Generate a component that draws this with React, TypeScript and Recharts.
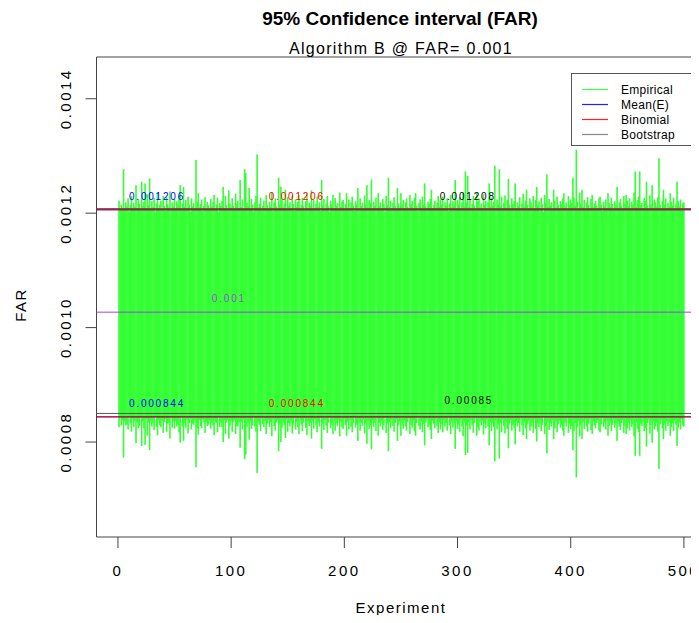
import React from 'react';
import {
  ComposedChart,
  Bar,
  XAxis,
  YAxis,
  ReferenceLine,
  ReferenceArea,
  ReferenceDot,
} from 'recharts';

// ---------- data (micro-units, i.e. x 1e-6) ----------
const UNIT = 1e-6;

const upperE6 = [
  1222, 1205, 1215, 1210, 1277, 1208, 1219, 1212, 1226, 1203,
  1214, 1230, 1207, 1218, 1211, 1249, 1209, 1224, 1216, 1205,
  1255, 1212, 1220, 1252, 1208, 1233, 1214, 1261, 1206, 1221,
  1211, 1227, 1203, 1217, 1236, 1209, 1215, 1222, 1207, 1230,
  1213, 1204, 1228, 1216, 1210, 1238, 1206, 1219, 1212, 1225,
  1208, 1221, 1214, 1231, 1249, 1205, 1217, 1246, 1211, 1223,
  1209, 1229, 1215, 1203, 1226, 1212, 1218, 1207, 1293, 1220,
  1235, 1210, 1216, 1224, 1204, 1213, 1228, 1208, 1220, 1214,
  1206, 1225, 1211, 1219, 1232, 1209, 1215, 1227, 1203, 1218,
  1212, 1222, 1246, 1208, 1230, 1214, 1205, 1240, 1217, 1210,
  1226, 1213, 1207, 1234, 1216, 1221, 1209, 1258, 1211, 1224,
  1206, 1277, 1270, 1218, 1212, 1244, 1208, 1225, 1215, 1203,
  1219, 1230, 1303, 1210, 1216, 1227, 1205, 1213, 1222, 1209,
  1232, 1214, 1207, 1220, 1211, 1236, 1204, 1218, 1226, 1212,
  1208, 1262, 1215, 1246, 1223, 1210, 1217, 1241, 1206, 1228,
  1213, 1219, 1209, 1231, 1216, 1204, 1224, 1211, 1220, 1232,
  1207, 1215, 1227, 1212, 1205, 1221, 1234, 1209, 1218, 1213,
  1240, 1210, 1223, 1206, 1216, 1229, 1211, 1219, 1204, 1258,
  1214, 1225, 1208, 1217, 1230, 1212, 1203, 1222, 1215, 1232,
  1209, 1226, 1213, 1218, 1207, 1236, 1211, 1220, 1223, 1205,
  1216, 1235, 1210, 1224, 1207, 1219, 1229, 1213, 1204, 1221,
  1215, 1244, 1209, 1226, 1212, 1218, 1206, 1231, 1214, 1249,
  1210, 1223, 1217, 1259, 1208, 1220, 1213, 1227, 1205, 1235,
  1212, 1219, 1209, 1225, 1216, 1203, 1230, 1214, 1262, 1211,
  1222, 1207, 1218, 1228, 1213, 1206, 1244, 1217, 1210, 1235,
  1214, 1223, 1208, 1219, 1226, 1211, 1205, 1232, 1216, 1221,
  1209, 1227, 1235, 1213, 1204, 1218, 1224, 1210, 1229, 1215,
  1252, 1212, 1207, 1220, 1216, 1225, 1241, 1209, 1214, 1222,
  1206, 1218, 1230, 1211, 1224, 1215, 1229, 1208, 1219, 1213,
  1226, 1204, 1217, 1232, 1210, 1221, 1214, 1258, 1209, 1223,
  1215, 1228, 1207, 1219, 1236, 1212, 1273, 1218, 1265, 1211,
  1224, 1208, 1216, 1230, 1213, 1205, 1235, 1220, 1226, 1210,
  1217, 1209, 1233, 1214, 1222, 1206, 1219, 1252, 1211, 1227,
  1213, 1220, 1283, 1208, 1224, 1215, 1277, 1212, 1229, 1206,
  1218, 1231, 1210, 1223, 1260, 1214, 1207, 1226, 1216, 1221,
  1252, 1209, 1219, 1213, 1228, 1205, 1217, 1234, 1211, 1222,
  1241, 1215, 1208, 1226, 1219, 1212, 1230, 1206, 1223, 1246,
  1214, 1220, 1209, 1227, 1216, 1203, 1232, 1218, 1268, 1211,
  1225, 1213, 1219, 1207, 1241, 1222, 1210, 1229, 1215, 1208,
  1221, 1216, 1226, 1235, 1212, 1219, 1205, 1230, 1214, 1224,
  1218, 1262, 1227, 1213, 1311, 1220, 1209, 1236, 1216, 1241,
  1211, 1223, 1207, 1219, 1228, 1214, 1206, 1225, 1232, 1210,
  1217, 1222, 1213, 1208, 1226, 1229, 1215, 1204, 1220, 1212,
  1224, 1209, 1235, 1218, 1211, 1227, 1216, 1206, 1221, 1214,
  1246, 1210, 1219, 1225, 1213, 1207, 1230, 1217, 1232, 1222,
  1212, 1226, 1208, 1220, 1215, 1236, 1273, 1211, 1223, 1229,
  1273, 1214, 1218, 1209, 1227, 1221, 1255, 1213, 1206, 1231,
  1216, 1249, 1210, 1224, 1219, 1212, 1228, 1296, 1215, 1207,
  1222, 1241, 1214, 1226, 1209, 1218, 1211, 1235, 1220, 1213,
  1227, 1208, 1216, 1255, 1221, 1212, 1224, 1206, 1217, 1219,
];

const lowerE6 = [
  826, 843, 829, 838, 773, 836, 829, 831, 822, 845,
  832, 818, 841, 826, 837, 798, 835, 824, 828, 842,
  793, 836, 824, 795, 840, 811, 834, 786, 838, 827,
  833, 821, 844, 827, 812, 839, 829, 826, 837, 816,
  835, 840, 818, 832, 834, 806, 842, 825, 836, 823,
  836, 827, 830, 817, 799, 843, 827, 802, 833, 825,
  839, 815, 833, 841, 822, 832, 830, 837, 756, 824,
  813, 838, 828, 824, 840, 835, 816, 836, 828, 830,
  838, 823, 833, 829, 812, 835, 833, 817, 843, 826,
  834, 826, 800, 838, 814, 834, 839, 806, 829, 836,
  818, 835, 839, 814, 828, 827, 835, 790, 835, 822,
  840, 770, 778, 826, 834, 804, 836, 823, 829, 843,
  827, 818, 746, 836, 830, 819, 841, 831, 826, 837,
  814, 832, 839, 826, 835, 810, 840, 828, 820, 834,
  838, 784, 831, 800, 825, 834, 829, 807, 840, 818,
  833, 827, 837, 815, 830, 842, 822, 835, 826, 814,
  839, 831, 819, 834, 841, 825, 812, 837, 828, 833,
  806, 836, 823, 840, 830, 817, 835, 827, 842, 788,
  832, 821, 838, 829, 816, 834, 843, 824, 831, 814,
  837, 820, 833, 828, 839, 810, 835, 826, 823, 841,
  830, 811, 836, 822, 839, 827, 817, 833, 842, 825,
  831, 802, 837, 820, 834, 828, 840, 815, 832, 797,
  836, 823, 829, 787, 838, 826, 833, 819, 841, 811,
  834, 827, 837, 821, 830, 843, 816, 832, 784, 835,
  824, 839, 828, 818, 833, 840, 802, 829, 836, 811,
  832, 823, 838, 827, 820, 835, 841, 814, 830, 825,
  837, 819, 811, 833, 842, 828, 822, 836, 817, 831,
  794, 834, 839, 826, 830, 821, 805, 837, 832, 824,
  840, 828, 816, 835, 822, 831, 817, 838, 827, 833,
  820, 842, 829, 814, 836, 825, 832, 788, 837, 823,
  831, 818, 839, 827, 810, 834, 777, 828, 781, 835,
  822, 838, 830, 816, 833, 841, 811, 826, 820, 836,
  829, 837, 813, 832, 824, 840, 827, 794, 835, 819,
  833, 826, 766, 838, 822, 831, 771, 834, 817, 840,
  828, 815, 836, 823, 789, 832, 839, 820, 830, 825,
  796, 837, 827, 833, 818, 841, 829, 812, 835, 824,
  805, 831, 838, 820, 827, 834, 816, 840, 823, 801,
  832, 826, 837, 819, 830, 843, 814, 828, 780, 835,
  821, 833, 827, 839, 805, 824, 836, 817, 831, 838,
  825, 830, 820, 811, 834, 827, 841, 816, 832, 822,
  828, 786, 819, 833, 738, 826, 837, 810, 830, 805,
  835, 823, 839, 827, 818, 832, 840, 821, 814, 836,
  829, 824, 833, 838, 820, 817, 831, 842, 826, 834,
  822, 837, 811, 828, 835, 819, 830, 840, 825, 832,
  802, 836, 827, 821, 833, 839, 816, 829, 814, 824,
  834, 820, 838, 826, 831, 810, 776, 835, 823, 817,
  776, 832, 828, 837, 819, 825, 792, 833, 840, 815,
  830, 799, 836, 822, 827, 834, 818, 753, 831, 839,
  824, 805, 832, 820, 837, 828, 835, 811, 826, 833,
  819, 838, 830, 793, 825, 834, 822, 840, 829, 827,
];

const experiments = upperE6.map((_, i) => i + 1);

const meanCI = [0.000844, 0.001206];
const binomialCI = [0.000844, 0.001206];
const bootstrapCI = [0.00085, 0.001208];
const meanFAR = 0.001027;

const meanLabels = ['0.000844', '0.001206'];
const binomialLabels = ['0.000844', '0.001206'];
const bootstrapLabels = ['0.00085', '0.001208'];
const meanFARLabel = '0.001';

const xTicks = [0, 100, 200, 300, 400, 500];
const yTicks = [0.0008, 0.001, 0.0012, 0.0014];

const legendItems = [
  { name: 'Empirical', color: '#44ff44' },
  { name: 'Mean(E)', color: '#2222ff' },
  { name: 'Binomial', color: '#ff2222' },
  { name: 'Bootstrap', color: '#888888' },
];

const data = experiments.map((e, i) => ({
  exp: e,
  range: [lowerE6[i] * UNIT, upperE6[i] * UNIT],
}));

const FONT = '"Liberation Sans", Arial, sans-serif';
const X_DOMAIN = [-18.96, 519.96];
const Y_DOMAIN = [0.000634, 0.001473];
const GREEN = '#33ff33';

const YTick = (props: any) => {
  const { x, y, payload } = props;
  return (
    <text
      x={x}
      y={y}
      transform={`rotate(-90 ${x} ${y})`}
      textAnchor="middle"
      dominantBaseline="central"
      fontFamily={FONT}
      fontSize={15}
      letterSpacing={2.5}
      fill="#000"
    >
      {Number(payload.value).toFixed(4)}
    </text>
  );
};

const XTick = (props: any) => {
  const { x, y, payload } = props;
  return (
    <text
      x={x}
      y={y}
      textAnchor="middle"
      dominantBaseline="central"
      fontFamily={FONT}
      fontSize={15}
      letterSpacing={2.5}
      fill="#000"
    >
      {payload.value}
    </text>
  );
};

// interval segment: a thin vertical bar centred on the experiment position
const Segment = (props: any) => {
  const { x, y, width, height } = props;
  if (x == null || y == null || height == null) return null;
  const cx = x + (width || 0) / 2;
  const top = height < 0 ? y + height : y;
  const h = Math.abs(height);
  return <rect x={cx - 0.8} y={top} width={1.6} height={h} fill={GREEN} />;
};

const annot = (value: string, color: string) => ({
  value,
  position: 'center' as const,
  fill: color,
  fontSize: 10,
  fontFamily: FONT,
  letterSpacing: 1.8,
});

export default function App() {
  return (
    <div
      style={{
        position: 'relative',
        width: 699,
        height: 623,
        margin: -8,
        overflow: 'hidden',
        background: '#fff',
      }}
    >
      <ComposedChart
        width={712}
        height={623}
        data={data}
        margin={{ top: 57, right: 5.5, bottom: 0, left: 36.5 }}
      >
        <XAxis
          type="number"
          dataKey="exp"
          domain={X_DOMAIN}
          ticks={xTicks}
          allowDataOverflow
          axisLine={false}
          tickSize={11}
          tickMargin={22}
          tickLine={{ stroke: '#444' }}
          tick={<XTick />}
          height={86}
          interval={0}
        />
        <YAxis
          type="number"
          domain={Y_DOMAIN}
          ticks={yTicks}
          allowDataOverflow
          axisLine={false}
          tickSize={11}
          tickMargin={19.5}
          tickLine={{ stroke: '#444' }}
          tick={<YTick />}
          width={60}
          interval={0}
        />
        <Bar
          dataKey="range"
          fill={GREEN}
          barSize={1}
          shape={<Segment />}
          isAnimationActive={false}
        />
        <ReferenceLine y={meanFAR} stroke="#a040f0" strokeWidth={1} />
        <ReferenceLine y={meanCI[0]} stroke="#0000ff" />
        <ReferenceLine y={meanCI[1]} stroke="#0000ff" />
        <ReferenceLine y={binomialCI[0]} stroke="#ff0000" />
        <ReferenceLine y={binomialCI[1]} stroke="#ff0000" />
        <ReferenceLine y={bootstrapCI[0]} stroke="#555555" />
        <ReferenceLine y={bootstrapCI[1]} stroke="#555555" />
        <ReferenceArea
          x1={X_DOMAIN[0]}
          x2={X_DOMAIN[1]}
          y1={Y_DOMAIN[0]}
          y2={Y_DOMAIN[1]}
          fill="none"
          stroke="#444"
          strokeWidth={1}
          ifOverflow="visible"
        />
        <ReferenceDot x={34.5} y={0.00123} r={0} fill="none" stroke="none" label={annot(meanLabels[1], '#0000ff')} />
        <ReferenceDot x={158} y={0.00123} r={0} fill="none" stroke="none" label={annot(binomialLabels[1], '#ff0000')} />
        <ReferenceDot x={309} y={0.00123} r={0} fill="none" stroke="none" label={annot(bootstrapLabels[1], '#000000')} />
        <ReferenceDot x={34.5} y={0.000868} r={0} fill="none" stroke="none" label={annot(meanLabels[0], '#0000ff')} />
        <ReferenceDot x={158} y={0.000868} r={0} fill="none" stroke="none" label={annot(binomialLabels[0], '#ff0000')} />
        <ReferenceDot x={310} y={0.000873} r={0} fill="none" stroke="none" label={annot(bootstrapLabels[0], '#000000')} />
        <ReferenceDot x={98} y={0.001051} r={0} fill="none" stroke="none" label={annot(meanFARLabel, '#9a50d0')} />
      </ComposedChart>

      <svg
        width={699}
        height={623}
        style={{ position: 'absolute', left: 0, top: 0, pointerEvents: 'none' }}
      >
        <text x={400} y={25} textAnchor="middle" fontFamily={FONT} fontWeight="bold" fontSize={19} fill="#000">
          95% Confidence interval (FAR)
        </text>
        <text x={401} y={54} textAnchor="middle" fontFamily={FONT} fontSize={16} fill="#000" letterSpacing={1.3}>
          Algorithm B @ FAR= 0.001
        </text>
        <text x={401} y={613} textAnchor="middle" fontFamily={FONT} fontSize={15} fill="#000" letterSpacing={1.5}>
          Experiment
        </text>
        <text
          x={20}
          y={305}
          transform="rotate(-90 20 305)"
          textAnchor="middle"
          dominantBaseline="central"
          fontFamily={FONT}
          fontSize={15}
          fill="#000"
          letterSpacing={1.5}
        >
          FAR
        </text>
        {/* legend */}
        <rect x={571.5} y={73.5} width={121} height={72} fill="#fff" stroke="#555" />
        {legendItems.map((it, i) => (
          <g key={it.name}>
            <line x1={582} x2={608} y1={89.5 + i * 15} y2={89.5 + i * 15} stroke={it.color} strokeWidth={1.2} />
            <text x={621} y={89.5 + i * 15} dominantBaseline="central" fontFamily={FONT} fontSize={12} letterSpacing={0.3} fill="#000">
              {it.name}
            </text>
          </g>
        ))}
      </svg>
    </div>
  );
}
